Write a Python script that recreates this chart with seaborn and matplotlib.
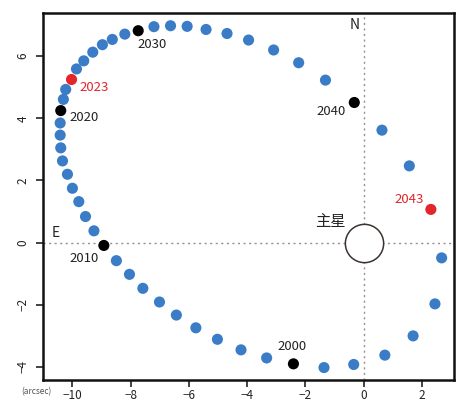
import pandas as pd
import matplotlib
matplotlib.use("Agg")
import matplotlib.pyplot as plt
import seaborn as sns

# orbit of the companion relative to the primary (arcsec), one point per year
years = list(range(2000, 2050))
x_pos = [-2.41, -3.33, -4.21, -5.02, -5.76, -6.43, -7.01, -7.58, -8.04, -8.49,
         -8.92, -9.26, -9.55, -9.78, -10.00, -10.17, -10.34, -10.40, -10.42, -10.42,
         -10.40, -10.31, -10.23, -10.03, -9.86, -9.61, -9.30, -8.97, -8.63, -8.20,
         -7.74, -7.20, -6.63, -6.06, -5.41, -4.69, -3.95, -3.09, -2.23, -1.31,
         -0.32, 0.63, 1.57, 2.31, 2.68, 2.45, 1.70, 0.73, -0.34, -1.36]
y_pos = [-3.90, -3.71, -3.45, -3.11, -2.74, -2.33, -1.91, -1.47, -1.02, -0.58,
         -0.09, 0.38, 0.84, 1.32, 1.75, 2.20, 2.63, 3.05, 3.46, 3.85,
         4.25, 4.61, 4.93, 5.25, 5.59, 5.85, 6.13, 6.37, 6.54, 6.71,
         6.82, 6.95, 6.98, 6.96, 6.86, 6.73, 6.52, 6.20, 5.79, 5.23,
         4.51, 3.62, 2.47, 1.07, -0.49, -1.97, -3.00, -3.62, -3.92, -4.02]
decade_years = [2000, 2010, 2020, 2030, 2040]
red_years = [2023, 2043]
primary_label = "主星"
x_ticks = [-10, -8, -6, -4, -2, 0, 2]
y_ticks = [-4, -2, 0, 2, 4, 6]

def kind(y):
    if y in red_years:
        return "red"
    if y in decade_years:
        return "decade"
    return "year"

df = pd.DataFrame({"year": years, "x": x_pos, "y": y_pos})
df["kind"] = df["year"].map(kind)

sns.set_style("ticks")
plt.rcParams["font.family"] = ["Noto Sans CJK JP", "DejaVu Sans"]

fig = plt.figure(figsize=(4.58, 4.04), dpi=100)
ax = fig.add_axes([0.0945, 0.0594, 0.8965, 0.9092])

# reference lines through the primary
ax.axhline(0, color="#9a8f88", lw=1.0, ls=(0, (1.5, 2.5)), zorder=1)
ax.axvline(0, color="#9a8f88", lw=1.0, ls=(0, (1.5, 2.5)), zorder=1)

palette = {"year": "#3a7cc6", "decade": "#000000", "red": "#e2262a"}
sns.scatterplot(data=df, x="x", y="y", hue="kind", palette=palette,
                s=64, linewidth=0, legend=False, ax=ax, zorder=3)

# primary star
ax.scatter([0], [0], s=760, facecolor="white", edgecolor="#3a3330",
           linewidth=1.1, zorder=4)
ax.text(-1.15, 0.68, primary_label, fontsize=11, ha="center", va="center",
        color="#222222", zorder=5)

# year labels
offsets = {2000: (-0.05, 0.56), 2010: (-0.69, -0.41), 2020: (0.79, -0.22),
           2023: (0.77, -0.25), 2030: (0.48, -0.44), 2040: (-0.78, -0.30),
           2043: (-0.73, 0.33)}
for yr, (dx, dy) in offsets.items():
    row = df[df["year"] == yr].iloc[0]
    col = "#e2262a" if yr in red_years else "#222222"
    ax.text(row["x"] + dx, row["y"] + dy, str(yr), fontsize=9.5,
            ha="center", va="center", color=col, zorder=5)

ax.text(-0.32, 7.0, "N", fontsize=10, ha="center", va="center", color="#222222")
ax.text(-10.57, 0.30, "E", fontsize=10, ha="center", va="center", color="#222222")

ax.set_xlim(-11.0, 3.1)
ax.set_ylim(-4.42, 7.4)
ax.set_xticks(x_ticks)
ax.set_yticks(y_ticks)
ax.set_xticklabels([f"−{abs(t)}" if t < 0 else str(t) for t in x_ticks])
ax.set_yticklabels([f"−{abs(t)}" if t < 0 else str(t) for t in y_ticks],
                   rotation=90, va="center")
ax.tick_params(axis="both", direction="out", length=5, width=1.2,
               labelsize=8.5, colors="#222222", pad=5)
ax.tick_params(axis="x", pad=1.5)
ax.set_xlabel("")
ax.set_ylabel("")
for sp in ax.spines.values():
    sp.set_visible(True)
    sp.set_linewidth(1.8)
    sp.set_color("#111111")

fig.text(0.079, 0.03, "(arcsec)", fontsize=6, ha="center", va="center",
         color="#555555")

fig.savefig("out.png", dpi=100)
